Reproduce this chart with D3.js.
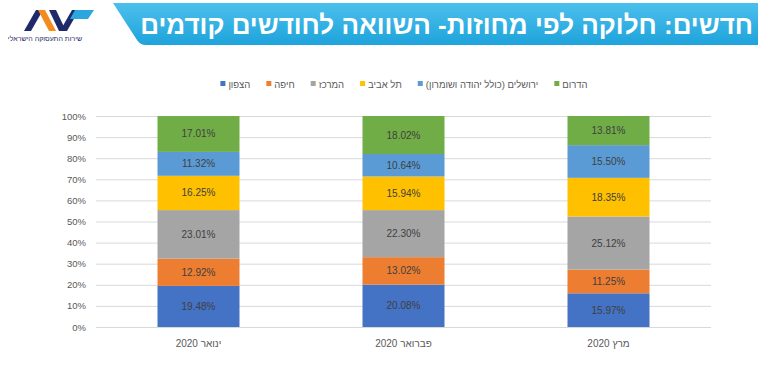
<!DOCTYPE html>
<html>
<head>
<meta charset="utf-8">
<script src="https://cdn.jsdelivr.net/npm/d3@7"></script>
<style>
  body { margin: 0; background: #fff; }
  svg { display: block; font-family: "Liberation Sans", Arial, "DejaVu Sans", sans-serif; }
</style>
</head>
<body>
<div id="chart"></div>
<script>
var width = 758,
    height = 370

// data
var months = ["ינואר 2020", "פברואר 2020", "מרץ 2020"]
var regions = ["הצפון", "חיפה", "המרכז", "תל אביב", "ירושלים (כולל יהודה ושומרון)", "הדרום"]
var north     = [19.48, 20.08, 15.97]
var haifa     = [12.92, 13.02, 11.25]
var center    = [23.01, 22.30, 25.12]
var telAviv   = [16.25, 15.94, 18.35]
var jerusalem = [11.32, 10.64, 15.50]
var south     = [17.01, 18.02, 13.81]
var yTicks = [0, 10, 20, 30, 40, 50, 60, 70, 80, 90, 100]
var title = "חדשים: חלוקה לפי מחוזות- השוואה לחודשים קודמים"
var logoText = "שירות התעסוקה הישראלי"

var colors = ["#4472C4", "#ED7D31", "#A5A5A5", "#FFC000", "#5B9BD5", "#70AD47"]
var series = [north, haifa, center, telAviv, jerusalem, south]

var rows = months.map(function(m, i) {
  var r = { month: m }
  regions.forEach(function(k, j) { r[k] = series[j][i] })
  return r
})

var svg = d3.select("#chart")
  .append("svg")
    .attr("width", width)
    .attr("height", height)

// header banner
var defs = svg.append("defs")
var grad = defs.append("linearGradient").attr("id", "bannerGrad")
  .attr("x1", 0).attr("y1", 0).attr("x2", 0).attr("y2", 1)
grad.append("stop").attr("offset", "0%").attr("stop-color", "#4cc0ec")
grad.append("stop").attr("offset", "100%").attr("stop-color", "#1ea3db")

svg.append("path")
  .attr("d", "M113,3 L758,3 L758,45 L146,45 Q140,45 137,40 Z")
  .attr("fill", "url(#bannerGrad)")

svg.append("text")
  .attr("x", 753)
  .attr("y", 34)
  .attr("direction", "rtl")
  .attr("text-anchor", "start")
  .attr("fill", "#fff")
  .style("font-size", "26px")
  .style("font-weight", "bold")
  .text(title)

// logo
var logo = svg.append("g")
logo.append("path").attr("d", "M24,31 L36,10 L43,10 L31,31 Z").attr("fill", "#1f2a6b")
logo.append("path").attr("d", "M38,10 L45,10 L56,31 L49,31 Z").attr("fill", "#f28c1e")
logo.append("path").attr("d", "M49,10 L56,10 L66,31 L59,31 Z").attr("fill", "#1f2a6b")
logo.append("path").attr("d", "M60,31 L72,10 L79,10 L67,31 Z").attr("fill", "#1f2a6b")
logo.append("path").attr("d", "M75,10 L94,10 L88,19 L70,19 Z").attr("fill", "#2ba6de")
logo.append("text")
  .attr("x", 45)
  .attr("y", 41)
  .attr("direction", "rtl")
  .attr("text-anchor", "middle")
  .attr("fill", "#1f2a6b")
  .style("font-size", "7px")
  .text(logoText)

// scales
var x = d3.scaleBand()
  .domain(months)
  .range([96, 711])
  .paddingInner(0.6)
  .paddingOuter(0.3)

var y = d3.scaleLinear()
  .domain([0, 100])
  .range([327, 116])

// grid
svg.append("g")
  .selectAll("line")
  .data(yTicks)
  .enter()
  .append("line")
    .attr("x1", 96)
    .attr("x2", 711)
    .attr("y1", function(d) { return y(d) + 0.5 })
    .attr("y2", function(d) { return y(d) + 0.5 })
    .attr("stroke", "#d9d9d9")
    .attr("stroke-width", 1)

svg.append("g")
  .selectAll("text")
  .data(yTicks)
  .enter()
  .append("text")
    .attr("x", 86)
    .attr("y", function(d) { return y(d) + 3.5 })
    .attr("text-anchor", "end")
    .attr("fill", "#595959")
    .style("font-size", "9.5px")
    .text(function(d) { return d + "%" })

// bars
var stacked = d3.stack().keys(regions)(rows)

var layers = svg.selectAll("g.layer")
  .data(stacked)
  .enter()
  .append("g")
    .attr("class", "layer")
    .attr("fill", function(d, i) { return colors[i] })

layers.selectAll("rect")
  .data(function(d) { return d })
  .enter()
  .append("rect")
    .attr("x", function(d) { return x(d.data.month) })
    .attr("width", x.bandwidth())
    .attr("y", function(d) { return y(d[1]) })
    .attr("height", function(d) { return y(d[0]) - y(d[1]) })

layers.selectAll("text")
  .data(function(d) { return d.map(function(p) { p.key = d.key; return p }) })
  .enter()
  .append("text")
    .attr("x", function(d) { return x(d.data.month) + x.bandwidth() / 2 })
    .attr("y", function(d) { return (y(d[0]) + y(d[1])) / 2 + 3.5 })
    .attr("text-anchor", "middle")
    .attr("fill", "#404040")
    .style("font-size", "10px")
    .text(function(d) { return d.data[d.key].toFixed(2) + "%" })

// category labels
svg.append("g")
  .selectAll("text")
  .data(months)
  .enter()
  .append("text")
    .attr("x", function(d) { return x(d) + x.bandwidth() / 2 })
    .attr("y", 347)
    .attr("direction", "rtl")
    .attr("text-anchor", "middle")
    .attr("fill", "#595959")
    .style("font-size", "10px")
    .text(function(d) { return d })

// legend
var legend = svg.append("g")
var items = legend.selectAll("g")
  .data(regions)
  .enter()
  .append("g")

items.append("text")
  .attr("direction", "rtl")
  .attr("text-anchor", "middle")
  .attr("y", 87.5)
  .attr("fill", "#595959")
  .style("font-size", "9.5px")
  .text(function(d) { return d })

var widths = []
items.select("text").each(function() { widths.push(this.getComputedTextLength()) })
var gap = 16, box = 5, pad = 3
var total = d3.sum(widths) + regions.length * (box + pad) + (regions.length - 1) * gap
var cx = 404 - total / 2

items.each(function(d, i) {
  var g = d3.select(this)
  g.insert("rect", "text")
    .attr("x", cx)
    .attr("y", 81)
    .attr("width", box)
    .attr("height", box)
    .attr("fill", colors[i])
  g.select("text").attr("x", cx + box + pad + widths[i] / 2)
  cx += box + pad + widths[i] + gap
})
</script>
</body>
</html>
